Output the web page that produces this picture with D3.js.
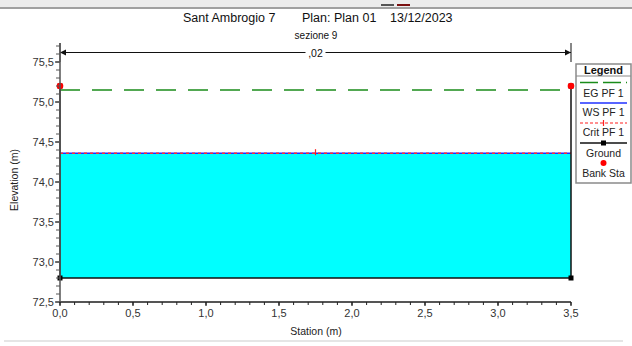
<!DOCTYPE html>
<html>
<head>
<meta charset="utf-8">
<script src="https://cdn.jsdelivr.net/npm/d3@7"></script>
<style>
  body { margin: 0; background: #fff; }
  svg { display: block; font-family: "Liberation Sans", Arial, sans-serif; }
</style>
</head>
<body>
<div id="chart"></div>
<script>
// cross section data
const groundSta = [0, 0, 3.5, 3.5];
const groundElev = [75.2, 72.8, 72.8, 75.2];
const bankSta = [0, 3.5];
const bankElev = [75.2, 75.2];
const egElev = 75.15;
const wsElev = 74.36;
const critElev = 74.36;
const critSta = [1.75];
const nValues = [",02"];
const nSta = [[0, 3.5]];
const xTicks = [0, 0.5, 1, 1.5, 2, 2.5, 3, 3.5];
const yTicks = [72.5, 73, 73.5, 74, 74.5, 75, 75.5];
const legendItems = ["EG PF 1", "WS PF 1", "Crit PF 1", "Ground", "Bank Sta"];

const width = 632, height = 346;
const svg = d3.select("#chart").append("svg")
  .attr("width", width)
  .attr("height", height);

const x = d3.scaleLinear().domain([0, 3.5]).range([60, 571]);
const y = d3.scaleLinear().domain([72.5, 75.5]).range([302, 62]);
const yTop = 43;
const fmt = d => d3.format(".1f")(d).replace(".", ",");

// window chrome bits
svg.append("rect").attr("x", 0).attr("y", 0).attr("width", width).attr("height", 7).attr("fill", "#ececec");
svg.append("line").attr("x1", 0).attr("x2", width).attr("y1", 8).attr("y2", 8)
  .attr("stroke", "#a0a0a0").attr("stroke-width", 2);
svg.append("line").attr("x1", 381).attr("x2", 394).attr("y1", 5).attr("y2", 5).attr("stroke", "#555").attr("stroke-width", 2);
svg.append("line").attr("x1", 397).attr("x2", 410).attr("y1", 5).attr("y2", 5).attr("stroke", "#7a1010").attr("stroke-width", 2);
svg.append("line").attr("x1", 4).attr("x2", 623).attr("y1", 341).attr("y2", 341)
  .attr("stroke", "#dcdcdc").attr("stroke-width", 1.5);

// titles
const title = svg.append("g").attr("fill", "#111").attr("font-size", "12.5px");
title.append("text").attr("x", 183).attr("y", 22).text("Sant Ambrogio 7");
title.append("text").attr("x", 302).attr("y", 22).text("Plan: Plan 01");
title.append("text").attr("x", 390).attr("y", 22).text("13/12/2023");
svg.append("text").attr("x", 316).attr("y", 39).attr("text-anchor", "middle")
  .attr("font-size", "10px").attr("fill", "#111").text("sezione 9");

// water area
const water = d3.area()
  .x(d => x(d))
  .y0(y(groundElev[1]))
  .y1(y(wsElev));
svg.append("path").datum([groundSta[1], groundSta[2]])
  .attr("d", water).attr("fill", "#00ffff");

// EG line
svg.append("line")
  .attr("x1", x(0)).attr("x2", x(3.5)).attr("y1", y(egElev)).attr("y2", y(egElev))
  .attr("stroke", "#1a8c1a").attr("stroke-width", 1.5).attr("stroke-dasharray", "20,12");

// WS line
svg.append("line")
  .attr("x1", x(0)).attr("x2", x(3.5)).attr("y1", y(wsElev)).attr("y2", y(wsElev))
  .attr("stroke", "#2030ff").attr("stroke-width", 1.5);
// Crit line
svg.append("line")
  .attr("x1", x(0)).attr("x2", x(3.5)).attr("y1", y(critElev)).attr("y2", y(critElev))
  .attr("stroke", "#ff3030").attr("stroke-width", 1.5).attr("stroke-dasharray", "3,3");
svg.selectAll(".crit").data(critSta).enter().append("line")
  .attr("x1", d => x(d)).attr("x2", d => x(d))
  .attr("y1", y(critElev) - 4).attr("y2", y(critElev) + 2)
  .attr("stroke", "#ff2020").attr("stroke-width", 1.2);

// ground
const groundPts = groundSta.map((s, i) => [s, groundElev[i]]);
svg.append("path").datum(groundPts)
  .attr("d", d3.line().x(d => x(d[0])).y(d => y(d[1])))
  .attr("fill", "none").attr("stroke", "#111").attr("stroke-width", 1.5);
svg.selectAll(".gpt").data(groundPts).enter().append("rect")
  .attr("x", d => x(d[0]) - 2.5).attr("y", d => y(d[1]) - 2.5)
  .attr("width", 5).attr("height", 5).attr("fill", "#000");

// bank stations
svg.selectAll(".bank").data(bankSta).enter().append("circle")
  .attr("cx", d => x(d)).attr("cy", (d, i) => y(bankElev[i]))
  .attr("r", 3.3).attr("fill", "#ff0000");

// n-value arrow
const ay = 52.5;
const nG = svg.append("g");
nSta.forEach((seg, i) => {
  nG.append("line").attr("x1", x(seg[0])).attr("x2", x(seg[1])).attr("y1", ay).attr("y2", ay)
    .attr("stroke", "#111").attr("stroke-width", 1);
  [seg[0], seg[1]].forEach((s, j) => {
    nG.append("line").attr("x1", x(s)).attr("x2", x(s)).attr("y1", yTop).attr("y2", 62)
      .attr("stroke", "#111").attr("stroke-width", 1);
    const dir = j === 0 ? 1 : -1;
    nG.append("path")
      .attr("d", `M${x(s)},${ay} L${x(s) + dir * 6},${ay - 3} L${x(s) + dir * 6},${ay + 3} Z`)
      .attr("fill", "#111");
  });
  const mid = x((seg[0] + seg[1]) / 2);
  nG.append("rect").attr("x", mid - 10).attr("y", ay - 6).attr("width", 20).attr("height", 12).attr("fill", "#fff");
  nG.append("text").attr("x", mid).attr("y", ay + 4).attr("text-anchor", "middle")
    .attr("font-size", "10.5px").attr("fill", "#111").text(nValues[i]);
});

// axes
const axisColor = "#555";
const yAxis = svg.append("g");
yAxis.append("line").attr("x1", 60).attr("x2", 60).attr("y1", yTop).attr("y2", 302)
  .attr("stroke", axisColor).attr("stroke-width", 1.5);
const yMinor = d3.range(72.5, 75.75, 0.1).map(v => +v.toFixed(1));
yAxis.selectAll(".ym").data(yMinor).enter().append("line")
  .attr("x1", 56).attr("x2", 60).attr("y1", d => y(d)).attr("y2", d => y(d))
  .attr("stroke", axisColor).attr("stroke-width", 1);
yAxis.selectAll(".yM").data(yTicks).enter().append("line")
  .attr("x1", 55).attr("x2", 60).attr("y1", d => y(d)).attr("y2", d => y(d))
  .attr("stroke", axisColor).attr("stroke-width", 1.5);
yAxis.selectAll(".yl").data(yTicks).enter().append("text")
  .attr("x", 54).attr("y", d => y(d) + 4).attr("text-anchor", "end")
  .attr("font-size", "11px").attr("fill", "#333").text(fmt);

const xAxis = svg.append("g");
xAxis.append("line").attr("x1", 59).attr("x2", 571).attr("y1", 302).attr("y2", 302)
  .attr("stroke", axisColor).attr("stroke-width", 2);
const xMinor = d3.range(0, 3.55, 0.1).map(v => +v.toFixed(1));
xAxis.selectAll(".xm").data(xMinor).enter().append("line")
  .attr("x1", d => x(d)).attr("x2", d => x(d)).attr("y1", 302).attr("y2", 305)
  .attr("stroke", "#222").attr("stroke-width", 1);
xAxis.selectAll(".xM").data(xTicks).enter().append("line")
  .attr("x1", d => x(d)).attr("x2", d => x(d)).attr("y1", 302).attr("y2", 306)
  .attr("stroke", "#222").attr("stroke-width", 1.2);
xAxis.selectAll(".xl").data(xTicks).enter().append("text")
  .attr("x", d => x(d)).attr("y", 317).attr("text-anchor", "middle")
  .attr("font-size", "11px").attr("fill", "#333").text(fmt);

svg.append("text").attr("x", 316).attr("y", 335).attr("text-anchor", "middle")
  .attr("font-size", "10.5px").attr("fill", "#222").text("Station (m)");
svg.append("text").attr("transform", "translate(18,180) rotate(-90)").attr("text-anchor", "middle")
  .attr("font-size", "10.5px").attr("fill", "#222").text("Elevation (m)");

// legend
const lg = svg.append("g");
const lx = 576, lw = 55, lTop = 64, lBot = 183, lcx = lx + lw / 2;
lg.append("rect").attr("x", lx).attr("y", lTop).attr("width", lw).attr("height", lBot - lTop)
  .attr("fill", "#fff").attr("stroke", "#8a8a8a").attr("stroke-width", 1.5);
lg.append("text").attr("x", lcx).attr("y", lTop + 10).attr("text-anchor", "middle")
  .attr("font-size", "11px").attr("font-weight", "bold").attr("fill", "#111").text("Legend");
lg.append("line").attr("x1", lx).attr("x2", lx + lw).attr("y1", 76).attr("y2", 76)
  .attr("stroke", "#8a8a8a").attr("stroke-width", 1);
const symY = [82.5, 103, 123, 143, 163];
const txtY = [97, 116, 136, 157, 176.5];
// EG symbol
lg.append("line").attr("x1", lx + 4).attr("x2", lx + lw - 4).attr("y1", symY[0]).attr("y2", symY[0])
  .attr("stroke", "#1a8c1a").attr("stroke-width", 1.5).attr("stroke-dasharray", "18,5");
// WS symbol
lg.append("line").attr("x1", lx + 4).attr("x2", lx + lw - 4).attr("y1", symY[1]).attr("y2", symY[1])
  .attr("stroke", "#2030ff").attr("stroke-width", 1.5);
// Crit symbol
lg.append("line").attr("x1", lx + 4).attr("x2", lx + lw - 4).attr("y1", symY[2]).attr("y2", symY[2])
  .attr("stroke", "#ff2020").attr("stroke-width", 1.2).attr("stroke-dasharray", "3,2");
lg.append("line").attr("x1", lcx).attr("x2", lcx).attr("y1", symY[2] - 3).attr("y2", symY[2] + 3)
  .attr("stroke", "#ff2020").attr("stroke-width", 1.2);
// Ground symbol
lg.append("line").attr("x1", lx + 4).attr("x2", lx + lw - 4).attr("y1", symY[3]).attr("y2", symY[3])
  .attr("stroke", "#111").attr("stroke-width", 1.5);
lg.append("rect").attr("x", lcx - 2.5).attr("y", symY[3] - 2.5).attr("width", 5).attr("height", 5).attr("fill", "#000");
// Bank symbol
lg.append("circle").attr("cx", lcx).attr("cy", symY[4]).attr("r", 3).attr("fill", "#ff0000");
lg.selectAll(".lt").data(legendItems).enter().append("text")
  .attr("x", lcx).attr("y", (d, i) => txtY[i]).attr("text-anchor", "middle")
  .attr("font-size", "10.5px").attr("fill", "#222").text(d => d);
</script>
</body>
</html>
